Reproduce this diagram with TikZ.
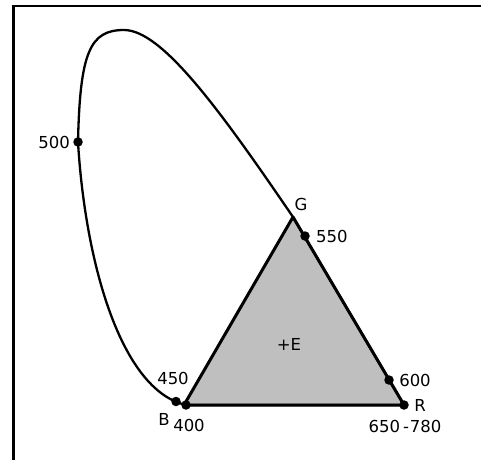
\documentclass[tikz,border=0pt]{standalone}
\usepackage{fontspec}
\setmainfont{DejaVu Sans}
\begin{document}
\begin{tikzpicture}[x=1pt,y=-1pt,
  lbl/.style={font=\fontsize{16.5}{18}\selectfont, inner sep=0pt},
  dot/.style={circle, fill=black, inner sep=0pt, minimum size=9.5pt},
  locus/.style={line width=2.3pt, line join=round},
  gamut/.style={line width=3pt, line join=round, fill=black!25}]
\useasboundingbox (0,0) rectangle (481,460);
\draw[line width=2.5pt] (13.5,460) -- (13.5,6) -- (481,6);
% primaries
\coordinate (B) at (184,405);
\coordinate (G) at (293,217);
\coordinate (R) at (404,405);
\coordinate (top) at (124,30);
\coordinate (p500) at (78,142);
\coordinate (p400) at (186,405);
\draw[gamut] (B) -- (G) -- (R) -- cycle;
% spectral locus
\draw[locus] (R) -- (G)
  .. controls (220,110) and (162,30) .. (top)
  .. controls (90,30) and (80,52) .. (p500)
  .. controls (85,260) and (120,390) .. (p400) -- (R);
% wavelength dots
\node[dot] (d500) at (p500) {};
\node[dot] (d550) at (305,236) {};
\node[dot] (d600) at (389,380) {};
\node[dot] (d450) at (176,401.5) {};
\node[dot] (d400) at (p400) {};
\node[dot] (d650) at (R) {};
% labels
\node[lbl, anchor=east] (t500) at (70,142) {500};
\node[lbl] (tG) at (301,204) {G};
\node[lbl, anchor=west] (t550) at (316,236) {550};
\node[lbl] (tE) at (289,344) {+E};
\node[lbl] (t450) at (173,378) {450};
\node[lbl] (t600) at (415,380) {600};
\node[lbl] (tR) at (420,405) {R};
\node[lbl] (tB) at (164,419) {B};
\node[lbl] (t400) at (189,425) {400};
\node[lbl] (t650) at (405,426) {650\kern3pt-\kern1pt780};
\end{tikzpicture}
\end{document}
